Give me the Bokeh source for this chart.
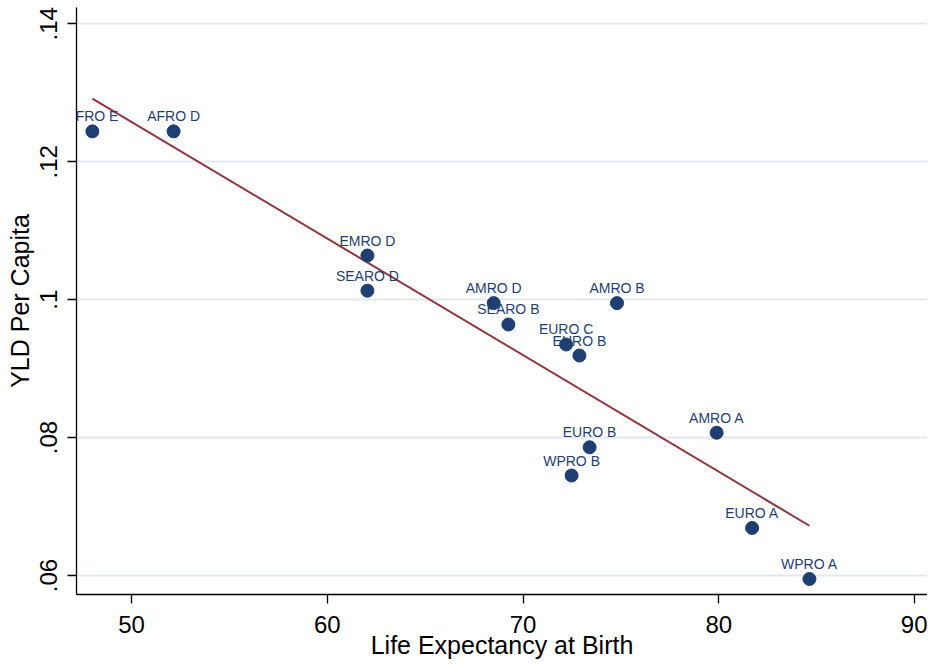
import numpy as np
from bokeh.plotting import figure
from bokeh.models import ColumnDataSource, Range1d, FixedTicker, Label
from bokeh.embed import file_html
from bokeh.resources import INLINE

# ---- data ----
regions = ["AFRO E", "AFRO D", "EMRO D", "SEARO D", "AMRO D", "SEARO B", "EURO C",
           "EURO B", "AMRO B", "AMRO A", "EURO B", "WPRO B", "EURO A", "WPRO A"]
life_exp = [48.0, 52.15, 62.05, 62.05, 68.5, 69.25, 72.2,
            72.88, 74.8, 79.89, 73.4, 72.48, 81.7, 84.63]
yld_per_capita = [0.1244, 0.1244, 0.1064, 0.1013, 0.0995, 0.0964, 0.0935,
                  0.0919, 0.0995, 0.0807, 0.0786, 0.0745, 0.0669, 0.0595]
x_ticks = [50, 60, 70, 80, 90]
y_ticks = [0.06, 0.08, 0.10, 0.12, 0.14]
y_tick_labels = [".06", ".08", ".1", ".12", ".14"]

FONT = "Liberation Sans"
NAVY = "#1f3e72"
MAROON = "#90353b"

src = ColumnDataSource(dict(x=life_exp, y=yld_per_capita, name=regions))

# linear fit (OLS) of the data
slope, intercept = np.polyfit(life_exp, yld_per_capita, 1)
fx = [min(life_exp), max(life_exp)]
fy = [slope * v + intercept for v in fx]

p = figure(width=927, height=664, output_backend="svg", toolbar_location=None,
           x_range=Range1d(47.19, 90.66), y_range=Range1d(0.05725, 0.14236),
           min_border_left=76, min_border_right=0, min_border_top=7,
           min_border_bottom=70)
p.outline_line_color = None
p.background_fill_color = "white"
p.border_fill_color = "white"

# grid
p.xgrid.visible = False
p.ygrid.ticker = FixedTicker(ticks=y_ticks)
p.ygrid.grid_line_color = "#e2e7f0"
p.ygrid.grid_line_width = 2

# axes
for ax in (p.xaxis[0], p.yaxis[0]):
    ax.axis_line_color = "black"
    ax.axis_line_width = 1.3
    ax.major_tick_line_color = "black"
    ax.major_tick_line_width = 1.3
    ax.major_tick_out = 9
    ax.major_tick_in = 0
    ax.minor_tick_line_color = None
    ax.major_label_text_font = FONT
    ax.major_label_text_font_size = "24px"
    ax.major_label_text_color = "black"
    ax.axis_label_text_font = FONT
    ax.axis_label_text_font_size = "25px"
    ax.axis_label_text_font_style = "normal"
    ax.axis_label_text_color = "black"

p.xaxis.ticker = FixedTicker(ticks=x_ticks)
p.xaxis.axis_label = "Life Expectancy at Birth"
p.xaxis.major_label_standoff = 12
p.xaxis.axis_label_standoff = -5

p.yaxis.ticker = FixedTicker(ticks=y_ticks)
p.yaxis.major_label_overrides = {t: l for t, l in zip(y_ticks, y_tick_labels)}
p.yaxis.major_label_orientation = "vertical"
p.yaxis.axis_label = "YLD Per Capita"
p.yaxis.major_label_standoff = 10
p.yaxis.axis_label_standoff = 4

# fit line
p.line(fx, fy, line_color=MAROON, line_width=2)

# points
p.scatter("x", "y", source=src, size=13, fill_color=NAVY, line_color=NAVY)

# point labels
for xv, yv, name in zip(life_exp, yld_per_capita, regions):
    p.add_layout(Label(x=xv, y=yv, text=name, text_font=FONT,
                       text_font_size="14px", text_color=NAVY,
                       text_align="center", text_baseline="bottom",
                       y_offset=7))

open("out.html", "w").write(file_html(p, INLINE))
